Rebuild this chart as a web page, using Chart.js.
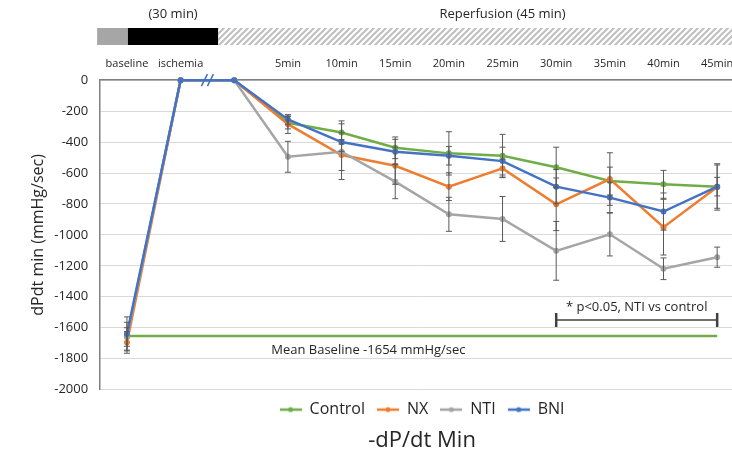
<!DOCTYPE html>
<html>
<head>
<meta charset="utf-8">
<script src="https://cdn.jsdelivr.net/npm/chart.js@4.4.1/dist/chart.umd.min.js"></script>
<style>
  html, body { margin: 0; padding: 0; background: #fff; overflow: hidden; }
  #wrap { position: relative; width: 760px; height: 462px; }
</style>
</head>
<body>
<div id="wrap"><canvas id="chart"></canvas></div>
<script>
// valeurs (mmHg/sec)
const categories = ['baseline', 'ischemia', '', '5min', '10min', '15min', '20min', '25min', '30min', '35min', '40min', '45min'];
const control = [-1660, 0, 0, -275, -338, -437, -473, -488, -563, -652, -673, -688];
const nx      = [-1695, 0, 0, -284, -484, -553, -688, -570, -802, -639, -950, -690];
const nti     = [-1655, 0, 0, -495, -462, -656, -867, -897, -1103, -996, -1219, -1144];
const bni     = [-1640, 0, 0, -254, -400, -462, -488, -523, -688, -759, -849, -688];

// barres d'erreur (+/-)
const controlErr = [60, 0, 0, 40, 75, 70, 140, 138, 130, 90, 90, 60];
const nxErr      = [70, 0, 0, 60, 100, 120, 90, 60, 170, 170, 180, 150];
const ntiErr     = [90, 0, 0, 100, 180, 110, 110, 145, 190, 140, 70, 65];
const bniErr     = [110, 0, 0, 30, 60, 80, 60, 90, 110, 100, 120, 140];

const meanBaseline = -1654;
const meanLine = [{ x: 'baseline', y: meanBaseline }, { x: '45min', y: meanBaseline }];

const yMin = -2000;
const yMax = 0;
const yStep = 200;

const COLORS = { control: '#70AD47', nx: '#ED7D31', nti: '#A5A5A5', bni: '#4472C4' };
const FONT = "'Open Sans', sans-serif";

function legendMark(color) {
  const c = document.createElement('canvas');
  c.width = 22; c.height = 8;
  const g = c.getContext('2d');
  g.strokeStyle = color; g.lineWidth = 2.5;
  g.beginPath(); g.moveTo(0, 4); g.lineTo(22, 4); g.stroke();
  g.fillStyle = color;
  g.beginPath(); g.arc(11, 4, 2.5, 0, Math.PI * 2); g.fill();
  return c;
}
const marks = [COLORS.control, COLORS.nx, COLORS.nti, COLORS.bni].map(legendMark);

function hatchPattern(ctx) {
  const p = document.createElement('canvas');
  p.width = 6; p.height = 6;
  const g = p.getContext('2d');
  g.fillStyle = '#fff'; g.fillRect(0, 0, 6, 6);
  g.strokeStyle = '#bfbfbf'; g.lineWidth = 2;
  g.beginPath();
  g.moveTo(-1, 7); g.lineTo(7, -1);
  g.moveTo(-1, 1); g.lineTo(1, -1);
  g.moveTo(5, 7); g.lineTo(7, 5);
  g.stroke();
  return ctx.createPattern(p, 'repeat');
}

// barres d'erreur + décorations (bandeau du haut, //, annotations)
const extras = {
  id: 'extras',
  afterDatasetsDraw(chart) {
    const { ctx, scales: { x, y }, chartArea } = chart;
    const errs = [controlErr, nxErr, ntiErr, bniErr];
    ctx.save();
    ctx.strokeStyle = '#595959';
    ctx.lineWidth = 1;
    errs.forEach((err, di) => {
      const vals = chart.data.datasets[di].data;
      vals.forEach((v, i) => {
        if (!err[i]) return;
        const px = x.getPixelForValue(i);
        const y1 = y.getPixelForValue(v + err[i]);
        const y2 = y.getPixelForValue(v - err[i]);
        ctx.beginPath();
        ctx.moveTo(px, y1); ctx.lineTo(px, y2);
        ctx.moveTo(px - 3, y1); ctx.lineTo(px + 3, y1);
        ctx.moveTo(px - 3, y2); ctx.lineTo(px + 3, y2);
        ctx.stroke();
      });
    });

    // coupure d'axe //
    const bx = (x.getPixelForValue(1) + x.getPixelForValue(2)) / 2;
    const by = y.getPixelForValue(0);
    ctx.strokeStyle = COLORS.bni;
    ctx.lineWidth = 1.5;
    [-3, 3].forEach(o => {
      ctx.beginPath();
      ctx.moveTo(bx + o - 3, by + 6);
      ctx.lineTo(bx + o + 3, by - 6);
      ctx.stroke();
    });

    // p<0.05
    const ax1 = x.getPixelForValue(8), ax2 = x.getPixelForValue(11);
    const ay = y.getPixelForValue(-1550);
    ctx.strokeStyle = '#404040';
    ctx.lineWidth = 1.5;
    ctx.beginPath();
    ctx.moveTo(ax1, ay); ctx.lineTo(ax2, ay);
    ctx.stroke();
    ctx.lineWidth = 2.5;
    ctx.beginPath();
    ctx.moveTo(ax1, ay - 7); ctx.lineTo(ax1, ay + 7);
    ctx.moveTo(ax2, ay - 7); ctx.lineTo(ax2, ay + 7);
    ctx.stroke();
    ctx.fillStyle = '#262626';
    ctx.font = '13px ' + FONT;
    ctx.textAlign = 'center';
    ctx.textBaseline = 'middle';
    ctx.fillText('* p<0.05, NTI vs control', (ax1 + ax2) / 2, y.getPixelForValue(-1470));
    ctx.fillText('Mean Baseline -1654 mmHg/sec', (x.getPixelForValue(4) + x.getPixelForValue(5)) / 2, y.getPixelForValue(-1745));

    // bandeau du protocole
    const top = 28, h = 17;
    const gx0 = chartArea.left - 3;
    const gx1 = x.getPixelForValue(0) + 1;
    const kx1 = x.getPixelForValue(2) - 16;
    ctx.fillStyle = '#a6a6a6';
    ctx.fillRect(gx0, top, gx1 - gx0, h);
    ctx.fillStyle = '#000';
    ctx.fillRect(gx1, top, kx1 - gx1, h);
    ctx.fillStyle = hatchPattern(ctx);
    ctx.fillRect(kx1, top, chart.width - kx1, h);
    ctx.fillStyle = '#262626';
    ctx.font = '13px ' + FONT;
    ctx.fillText('(30 min)', (gx1 + kx1) / 2, 14);
    ctx.fillText('Reperfusion (45 min)', (x.getPixelForValue(3) + x.getPixelForValue(11)) / 2, 14);
    ctx.restore();
  }
};

const lineDs = (label, data, color, order) => ({
  label, data, order,
  borderColor: color,
  backgroundColor: color,
  borderWidth: 2.5,
  pointRadius: 3,
  pointHoverRadius: 3,
  pointBackgroundColor: color,
  pointBorderWidth: 0,
  tension: 0,
  clip: false
});

new Chart(document.getElementById('chart'), {
  type: 'line',
  data: {
    labels: categories,
    datasets: [
      lineDs('Control', control, COLORS.control, 4),
      lineDs('NX', nx, COLORS.nx, 3),
      lineDs('NTI', nti, COLORS.nti, 2),
      lineDs('BNI', bni, COLORS.bni, 1),
      { label: 'mean', data: meanLine, order: 5, borderColor: COLORS.control, borderWidth: 2.5, pointRadius: 0, clip: false }
    ]
  },
  options: {
    responsive: true,
    maintainAspectRatio: false,
    animation: false,
    events: [],
    layout: { padding: { top: 55, right: 16, left: 29, bottom: 4 } },
    plugins: {
      tooltip: { enabled: false },
      legend: {
        position: 'bottom',
        fullSize: false,
        labels: {
          color: '#262626',
          font: { family: FONT, size: 16 },
          usePointStyle: true,
          pointStyleWidth: 22,
          padding: 12,
          generateLabels(chart) {
            const items = Chart.defaults.plugins.legend.labels.generateLabels(chart);
            return items
              .filter(i => i.datasetIndex < 4)
              .sort((a, b) => a.datasetIndex - b.datasetIndex)
              .map(i => { i.pointStyle = marks[i.datasetIndex]; return i; });
          }
        }
      },
      title: {
        display: true,
        position: 'bottom',
        fullSize: false,
        text: '-dP/dt Min',
        color: '#262626',
        font: { family: FONT, size: 22, weight: 'normal' },
        padding: { top: 0, bottom: 4 }
      }
    },
    scales: {
      x: {
        position: 'top',
        offset: true,
        grid: { display: false },
        border: { display: true, color: '#808080', width: 1.5 },
        ticks: { color: '#262626', font: { family: FONT, size: 11 }, padding: 2, maxRotation: 0, autoSkip: false }
      },
      y: {
        min: yMin,
        max: yMax,
        ticks: { stepSize: yStep, color: '#262626', font: { family: FONT, size: 13 }, padding: 12, callback: v => String(v) },
        grid: { color: '#d9d9d9', lineWidth: 1, drawTicks: false },
        border: { display: true, color: '#808080', width: 1.5 },
        title: { display: true, text: 'dPdt min (mmHg/sec)', color: '#262626', font: { family: FONT, size: 16 }, padding: { top: 0, bottom: -6 } }
      }
    }
  },
  plugins: [extras]
});
</script>
</body>
</html>
